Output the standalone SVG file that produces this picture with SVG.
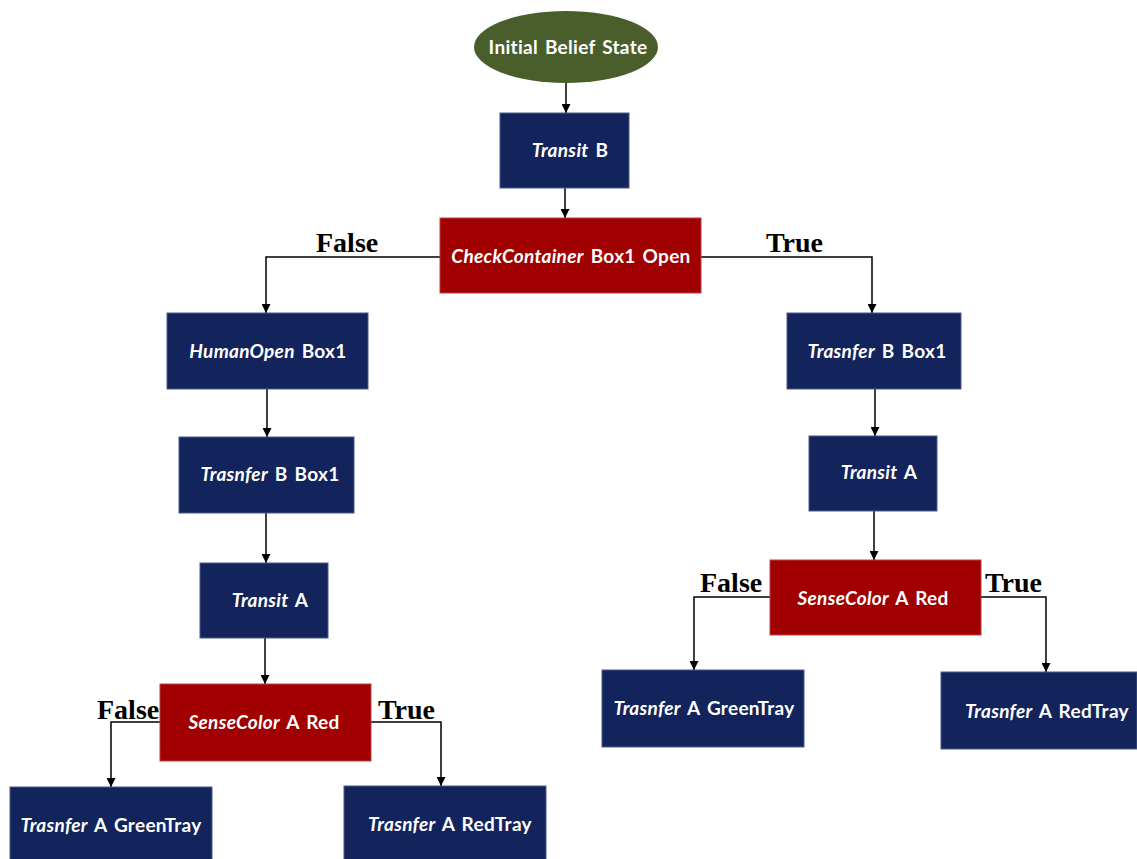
<svg xmlns="http://www.w3.org/2000/svg" width="1137" height="859" viewBox="0 0 1137 859">
<style>
.blue{fill:#13245c;stroke:#4a5a8a;stroke-width:1}
.red{fill:#a00000;stroke:#c04040;stroke-width:1}
.t{font-family:Lato,"Open Sans",sans-serif;font-size:19px;font-weight:700;fill:#ffffff;text-anchor:middle;letter-spacing:0.3px;word-spacing:2px}
.i{font-style:italic}
.lbl{font-family:"Liberation Serif",serif;font-size:28px;font-weight:700;fill:#000}
.c{fill:none;stroke:#000;stroke-width:1.5}
</style>
<defs>
<marker id="ah" viewBox="0 0 10 10" refX="10" refY="5" markerWidth="9" markerHeight="9" markerUnits="userSpaceOnUse" orient="auto">
<path d="M0,0 L10,5 L0,10 z" fill="#000"/>
</marker>
</defs>
<g id="connectors">
<path class="c" d="M566,83 V113" marker-end="url(#ah)"/>
<path class="c" d="M565,188 V218" marker-end="url(#ah)"/>
<path class="c" d="M440,257 H266 V313" marker-end="url(#ah)"/>
<path class="c" d="M701,257 H872 V313" marker-end="url(#ah)"/>
<path class="c" d="M267,389 V437" marker-end="url(#ah)"/>
<path class="c" d="M266,513 V563" marker-end="url(#ah)"/>
<path class="c" d="M265,638 V684" marker-end="url(#ah)"/>
<path class="c" d="M160,722 H111 V787" marker-end="url(#ah)"/>
<path class="c" d="M371,722 H441 V786" marker-end="url(#ah)"/>
<path class="c" d="M875,389 V436" marker-end="url(#ah)"/>
<path class="c" d="M874,511 V560" marker-end="url(#ah)"/>
<path class="c" d="M770,597 H694 V670" marker-end="url(#ah)"/>
<path class="c" d="M981,597 H1046 V672" marker-end="url(#ah)"/>
<text class="lbl" x="316" y="252">False</text>
<text class="lbl" x="766" y="252">True</text>
<text class="lbl" x="97" y="719">False</text>
<text class="lbl" x="378" y="719">True</text>
<text class="lbl" x="700" y="592">False</text>
<text class="lbl" x="985" y="592">True</text>
</g>
<g id="n-init">
<ellipse cx="566" cy="47" rx="92" ry="36" fill="#4a5e2b"/>
<text class="t" x="568" y="54">Initial Belief State</text>
</g>
<g id="n-transitB">
<rect class="blue" x="500" y="113" width="129" height="75"/>
<text class="t" x="570" y="157"><tspan class="i">Transit</tspan> B</text>
</g>
<g id="n-check">
<rect class="red" x="440" y="218" width="261" height="75"/>
<text class="t" x="571" y="263"><tspan class="i">CheckContainer</tspan>  Box1 Open</text>
</g>
<g id="n-humanopen">
<rect class="blue" x="167" y="313" width="201" height="76"/>
<text class="t" x="268" y="358"><tspan class="i">HumanOpen</tspan>  Box1</text>
</g>
<g id="n-transferB-left">
<rect class="blue" x="179" y="437" width="175" height="76"/>
<text class="t" x="270" y="481"><tspan class="i">Trasnfer</tspan> B Box1</text>
</g>
<g id="n-transitA-left">
<rect class="blue" x="200" y="563" width="128" height="75"/>
<text class="t" x="270" y="607"><tspan class="i">Transit</tspan> A</text>
</g>
<g id="n-sense-left">
<rect class="red" x="160" y="684" width="211" height="77"/>
<text class="t" x="264" y="729"><tspan class="i">SenseColor</tspan>  A Red</text>
</g>
<g id="n-green-left">
<rect class="blue" x="10" y="787" width="202" height="73"/>
<text class="t" x="111" y="832"><tspan class="i">Trasnfer</tspan> A GreenTray</text>
</g>
<g id="n-red-left">
<rect class="blue" x="344" y="786" width="202" height="74"/>
<text class="t" x="450" y="831"><tspan class="i">Trasnfer</tspan> A RedTray</text>
</g>
<g id="n-transferB-right">
<rect class="blue" x="787" y="313" width="174" height="76"/>
<text class="t" x="877" y="358"><tspan class="i">Trasnfer</tspan> B Box1</text>
</g>
<g id="n-transitA-right">
<rect class="blue" x="809" y="436" width="128" height="75"/>
<text class="t" x="879" y="479"><tspan class="i">Transit</tspan> A</text>
</g>
<g id="n-sense-right">
<rect class="red" x="770" y="560" width="211" height="75"/>
<text class="t" x="873" y="605"><tspan class="i">SenseColor</tspan>  A Red</text>
</g>
<g id="n-green-right">
<rect class="blue" x="602" y="670" width="202" height="77"/>
<text class="t" x="704" y="715"><tspan class="i">Trasnfer</tspan> A GreenTray</text>
</g>
<g id="n-red-right">
<rect class="blue" x="941" y="672" width="196" height="77"/>
<text class="t" x="1047" y="718"><tspan class="i">Trasnfer</tspan> A RedTray</text>
</g>
</svg>
